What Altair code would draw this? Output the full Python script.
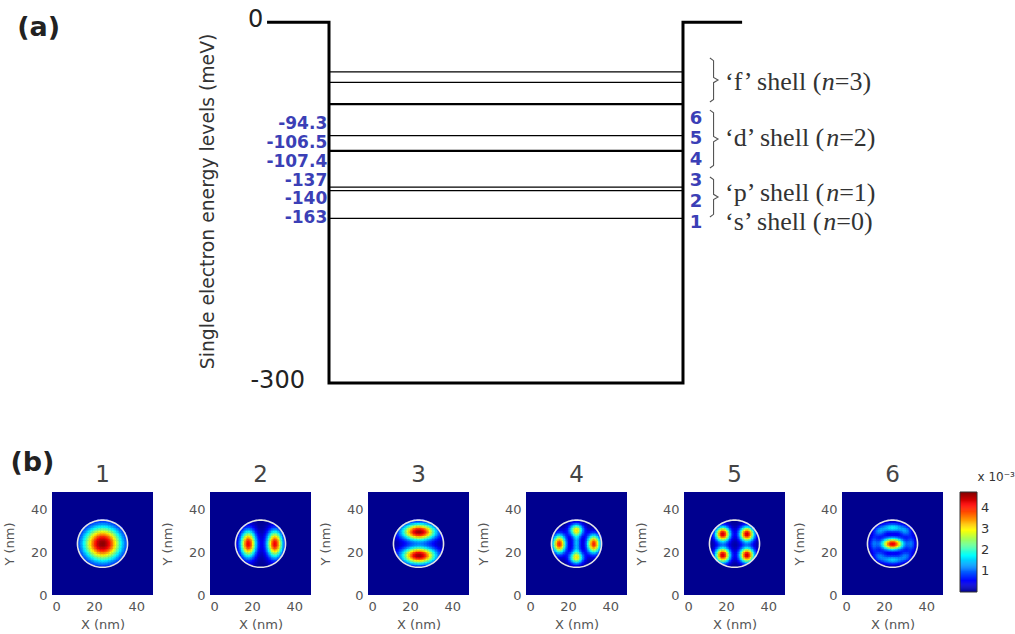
import numpy as np
import pandas as pd
import altair as alt

SANS = "DejaVu Sans"
SERIF = "Liberation Serif"
BLUE = "#3b3fb6"
INK = "#222222"

# ---------------- (a) single-electron levels of the dot ----------------
well_x = [-17.5, 0.0, 0.0, 100.0, 100.0, 116.7]      # well profile (arbitrary width units)
well_e = [0.0, 0.0, -300.0, -300.0, 0.0, 0.0]        # meV
level_e = [-41.3, -49.9, -67.6, -68.5, -94.3, -106.5, -107.4, -137.0, -140.0, -163.0]
state_e = [-163.0, -140.0, -137.0, -107.4, -106.5, -94.3]
state_text = ["-163", "-140", "-137", "-107.4", "-106.5", "-94.3"]
state_num = ["1", "2", "3", "4", "5", "6"]
shell_letter = ["f", "d", "p", "s"]
shell_n = ["3", "2", "1", "0"]
shell_e = [-49.4, -96.5, -142.2, -165.8]
brace_top = [-29.7, -73.0, -128.6]
brace_bottom = [-66.3, -121.2, -161.9]

# ---------------- (b) |psi|^2 maps (x 1e-3), described as lobes ----------------
lobe_x = {1: [24.0], 2: [18.2, 30.8], 3: [24.2, 24.2],
          4: [15.8, 32.2, 23.9, 23.9, 24.0],
          5: [18.4, 29.9, 18.4, 29.9],
          6: [24.0, 24.0, 24.0, 15.0, 33.0, 17.8, 30.2, 17.8, 30.2]}
lobe_y = {1: [23.9], 2: [23.8, 23.8], 3: [29.4, 18.4],
          4: [23.8, 23.8, 30.3, 17.4, 23.9],
          5: [28.4, 28.4, 18.6, 18.6],
          6: [23.8, 31.4, 16.4, 23.9, 23.9, 29.5, 29.5, 18.3, 18.3]}
lobe_peak = {1: [4.7], 2: [4.2, 4.2], 3: [4.6, 4.6],
             4: [4.0, 4.0, 2.7, 2.7, 1.4],
             5: [4.4, 4.4, 4.4, 4.4],
             6: [4.3, 1.7, 1.5, 0.9, 0.9, 1.0, 1.0, 0.9, 0.9]}
lobe_sx = {1: [6.3], 2: [2.6, 2.6], 3: [5.5, 5.5],
           4: [2.2, 2.2, 2.4, 2.4, 1.4],
           5: [2.4, 2.4, 2.4, 2.4],
           6: [3.6, 4.0, 4.0, 1.5, 1.5, 2.0, 2.0, 2.0, 2.0]}
lobe_sy = {1: [5.6], 2: [4.3, 4.3], 3: [2.7, 2.7],
           4: [3.0, 3.0, 2.0, 2.0, 4.0],
           5: [2.4, 2.4, 2.4, 2.4],
           6: [1.9, 1.5, 1.5, 3.0, 3.0, 1.6, 1.6, 1.6, 1.6]}
dot_cx, dot_cy, dot_rx, dot_ry = 24.0, 23.9, 11.9, 11.0   # dot outline (nm)
cbar_max = 4.75
cbar_ticks = [1, 2, 3, 4]
axis_ticks = [0, 20, 40]

# ---------------- layout of panel (a) ----------------
TOP_W, TOP_H = 1015, 440
X_DOM = [-92.94, 193.79]
E_DOM = [-347.36, 18.55]
PX_PER_U = TOP_W / (X_DOM[1] - X_DOM[0])
XS = alt.Scale(domain=X_DOM, nice=False, zero=False)
ES = alt.Scale(domain=E_DOM, nice=False, zero=False)


def xy(u="u", e="e"):
    return dict(x=alt.X(f"{u}:Q", scale=XS, axis=None),
                y=alt.Y(f"{e}:Q", scale=ES, axis=None))


well = alt.Chart(pd.DataFrame({"u": well_x, "e": well_e, "i": range(len(well_x))})).mark_line(
    color="black", strokeWidth=3, strokeJoin="miter").encode(order="i:Q", **xy())

levels = alt.Chart(pd.DataFrame({"e": level_e, "u0": well_x[1], "u1": well_x[3]})).mark_rule(
    color="black", strokeWidth=1.3).encode(
    x=alt.X("u0:Q", scale=XS, axis=None), x2="u1:Q", y=alt.Y("e:Q", scale=ES, axis=None))

# energy values, stacked upwards from the ground state
left_df = pd.DataFrame({"t": state_text, "u": -0.5,
                        "e": [state_e[0] + 15.7 * k for k in range(len(state_e))]})
left_lbl = alt.Chart(left_df).mark_text(
    align="right", baseline="middle", font=SANS, fontWeight="bold", fontSize=17, color=BLUE
).encode(text="t:N", **xy())

right_df = pd.DataFrame({"t": state_num, "u": 103.7,
                         "e": [state_e[0] - 4 + 17.4 * k for k in range(len(state_num))]})
right_lbl = alt.Chart(right_df).mark_text(
    align="center", baseline="middle", font=SANS, fontWeight="bold", fontSize=18, color=BLUE
).encode(text="t:N", **xy())

# curly braces grouping the shells
brace_rows = []
bx0, bw, corner = 107.6, 2.3, 2.2
for s, (hi, lo) in enumerate(zip(brace_top, brace_bottom)):
    mid = (hi + lo) / 2
    us = [bx0, bx0 + bw * 0.45, bx0 + bw * 0.45, bx0 + bw, bx0 + bw * 0.45, bx0 + bw * 0.45, bx0]
    es = [hi, hi - corner, mid + corner, mid, mid - corner, lo + corner, lo]
    for i, (u, e) in enumerate(zip(us, es)):
        brace_rows.append({"shell": shell_letter[s], "i": i, "u": u, "e": e})
braces = alt.Chart(pd.DataFrame(brace_rows)).mark_line(color="#555555", strokeWidth=1.1).encode(
    detail="shell:N", order="i:Q", **xy())

# shell names, with an italic n
SERIF_SIZE = 26
tnr = {"\u2018": 333, "\u2019": 333, "f": 333, "d": 500, "p": 500, "s": 389, " ": 250,
       "h": 500, "e": 444, "l": 278, "(": 333}
seg_rows = []
for letter, n, e in zip(shell_letter, shell_n, shell_e):
    head = f"\u2018{letter}\u2019 shell ("
    w_head = sum(tnr[c] for c in head) * SERIF_SIZE / 1000 / PX_PER_U
    w_n = 500 * SERIF_SIZE / 1000 / PX_PER_U
    seg_rows.append({"t": head, "u": 111.9, "e": e, "k": "r"})
    seg_rows.append({"t": "n", "u": 111.9 + w_head, "e": e, "k": "i"})
    seg_rows.append({"t": f"={n})", "u": 111.9 + w_head + w_n, "e": e, "k": "r"})
seg_df = pd.DataFrame(seg_rows)
shell_roman = alt.Chart(seg_df).transform_filter("datum.k == 'r'").mark_text(
    align="left", baseline="middle", font=SERIF, fontSize=SERIF_SIZE, color="#333333"
).encode(text="t:N", **xy())
shell_italic = alt.Chart(seg_df).transform_filter("datum.k == 'i'").mark_text(
    align="left", baseline="middle", font=SERIF, fontStyle="italic", fontSize=SERIF_SIZE, color="#333333"
).encode(text="t:N", **xy())

ends = alt.Chart(pd.DataFrame({"t": ["0", "-300"], "u": [-18.6, -6.8], "e": [well_e[0], well_e[2]]})).mark_text(
    align="right", baseline="middle", font=SANS, fontSize=24, color=INK, dy=-2
).encode(text="t:N", **xy())

ytitle = alt.Chart(pd.DataFrame({"t": ["Single electron energy levels (meV)"], "u": [-34.2], "e": [-149.0]})).mark_text(
    align="center", baseline="middle", angle=270, font=SANS, fontSize=18.8, color="#333333"
).encode(text="t:N", **xy())

tags = alt.Chart(pd.DataFrame({"t": ["(a)", "(b)"], "u": [-88.1, -90.0], "e": [-4.7, -366.5]})).mark_text(
    align="left", baseline="middle", font=SANS, fontWeight="bold", fontSize=27, color=INK
).encode(text="t:N", **xy())

top = alt.layer(well, levels, left_lbl, right_lbl, braces, shell_roman, shell_italic,
                ends, ytitle, tags).properties(
    width=TOP_W, height=TOP_H, view=alt.ViewBackground(fill="white", strokeWidth=0))

# ---------------- panels (b) ----------------
M = cbar_max
CS = alt.Scale(domain=[0, 0.11 * M, 0.365 * M, 0.62 * M, 0.873 * M, M],
               range=["#00008f", "#0000ff", "#00ffff", "#ffff00", "#ff0000", "#800000"],
               interpolate="rgb", clamp=True)
NM = alt.Scale(domain=[0, 48], nice=False, zero=False)
STEP = 0.75
OVER = 0.2

ax_x = alt.Axis(values=axis_ticks, ticks=False, domain=False, grid=False, labelFont=SANS,
                labelFontSize=13, labelColor="#555555", labelPadding=5, title="X (nm)",
                titleFont=SANS, titleFontSize=13, titleFontWeight="normal", titleColor="#555555",
                titlePadding=5)
ax_y = alt.Axis(values=axis_ticks, ticks=False, domain=False, grid=False, labelFont=SANS,
                labelFontSize=13, labelColor="#555555", labelPadding=5, title="Y (nm)",
                titleFont=SANS, titleFontSize=13, titleFontWeight="normal", titleColor="#555555",
                titlePadding=14)

gx = np.arange(dot_cx - dot_rx, dot_cx + dot_rx + STEP, STEP)
gy = np.arange(dot_cy - dot_ry, dot_cy + dot_ry + STEP, STEP)
GX, GY = np.meshgrid(gx, gy)
inside = ((GX - dot_cx) / dot_rx) ** 2 + ((GY - dot_cy) / dot_ry) ** 2 <= 1.0
GX, GY = GX[inside], GY[inside]

t = np.linspace(0, 2 * np.pi, 121)
ring_df = pd.DataFrame({"x": dot_cx + dot_rx * np.cos(t), "y": dot_cy + dot_ry * np.sin(t),
                        "i": np.arange(t.size)})


def density(k):
    v = np.zeros_like(GX)
    for x0, y0, a, sx, sy in zip(lobe_x[k], lobe_y[k], lobe_peak[k], lobe_sx[k], lobe_sy[k]):
        v += a * np.exp(-((GX - x0) ** 2) / (2 * sx ** 2) - ((GY - y0) ** 2) / (2 * sy ** 2))
    return pd.DataFrame({"x0": GX - STEP / 2, "x1": GX + STEP / 2 + OVER,
                         "y0": GY - STEP / 2, "y1": GY + STEP / 2 + OVER, "v": v})


def panel(k):
    heat = alt.Chart(density(k)).mark_rect().encode(
        x=alt.X("x0:Q", scale=NM, axis=ax_x), x2="x1:Q",
        y=alt.Y("y0:Q", scale=NM, axis=ax_y), y2="y1:Q",
        color=alt.Color("v:Q", scale=CS, legend=None))
    ring = alt.Chart(ring_df).mark_line(color="#e4e4e4", strokeWidth=1.6).encode(
        x=alt.X("x:Q", scale=NM, axis=ax_x), y=alt.Y("y:Q", scale=NM, axis=ax_y), order="i:Q")
    return alt.layer(heat, ring).properties(
        width=101, height=103,
        title=alt.TitleParams(str(k), font=SANS, fontSize=23, fontWeight="normal",
                              color="#444444", offset=5, anchor="middle"),
        view=alt.ViewBackground(fill="#00008f", strokeWidth=0))


# colour bar: thin slices of the colour scale with labels on its right
cb_lo = np.arange(0, M, 0.05)
cb_df = pd.DataFrame({"v0": cb_lo, "v1": np.minimum(cb_lo + 0.07, M), "vm": cb_lo + 0.025,
                      "a": 0.0, "b": 1.0})
CB01 = alt.Scale(domain=[0, 1], nice=False, zero=False)
CBY = alt.Scale(domain=[0, M], nice=False, zero=False)
cbar = alt.Chart(cb_df).mark_rect().encode(
    x=alt.X("a:Q", scale=CB01, axis=None), x2="b:Q",
    y=alt.Y("v0:Q", scale=CBY, axis=None), y2="v1:Q",
    color=alt.Color("vm:Q", scale=CS, legend=None))
cframe = alt.Chart(pd.DataFrame({"a": [0.0], "b": [1.0], "lo": [0.0], "hi": [M]})).mark_rect(
    filled=False, stroke="#333333", strokeWidth=1).encode(
    x=alt.X("a:Q", scale=CB01, axis=None), x2="b:Q",
    y=alt.Y("lo:Q", scale=CBY, axis=None), y2="hi:Q")
clabels = alt.Chart(pd.DataFrame({"v": cbar_ticks, "a": 1.0})).mark_text(
    align="left", baseline="middle", dx=4, font=SANS, fontSize=13, color="#333333").encode(
    x=alt.X("a:Q", scale=CB01, axis=None), y=alt.Y("v:Q", scale=CBY, axis=None), text="v:Q")
colorbar = alt.layer(cbar, cframe, clabels).properties(
    width=17, height=100,
    title=alt.TitleParams("x 10\u207b\u00b3", font=SANS, fontSize=12, fontWeight="normal",
                          color="#333333", anchor="start", dx=18, offset=8),
    view=alt.ViewBackground(strokeWidth=0))


def gap(w):
    # empty cell that only reserves horizontal room in the row
    return alt.Chart(pd.DataFrame({"a": [0]})).mark_text(text="").encode(
        x=alt.value(0), y=alt.value(0)).properties(width=w, height=103)


row = [gap(34.7)]
for k in range(1, 7):
    row.append(panel(k))
    if k < 6:
        row.append(gap(22.8))
row.append(colorbar)
bottom = alt.hconcat(*row, spacing=17, bounds="flush")

chart = alt.vconcat(top, bottom, spacing=52, bounds="flush", padding=0,
                    background="white").configure_view(strokeWidth=0)

chart.save("out.html", embed_options={"renderer": "svg", "actions": False})
